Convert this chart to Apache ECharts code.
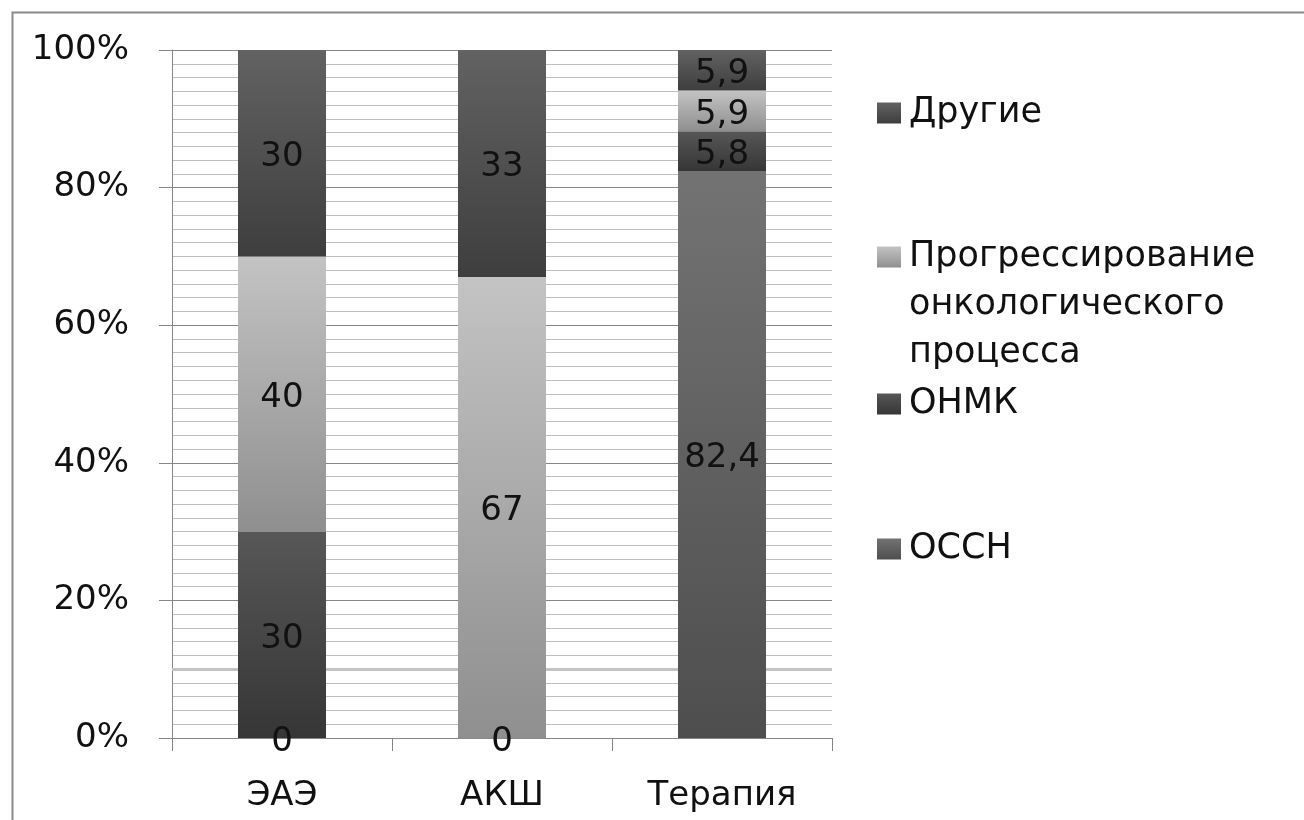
<!DOCTYPE html>
<html>
<head>
<meta charset="utf-8">
<script src="https://cdn.jsdelivr.net/npm/echarts@6/dist/echarts.min.js"></script>
<style>
  html, body { margin: 0; padding: 0; background: #ffffff; }
  #chart { width: 1304px; height: 820px; }
</style>
</head>
<body>
<div id="chart"></div>
<script>
// Causes of death by group, percent of each group (stacked to 100%)
const categories = ['ЭАЭ', 'АКШ', 'Терапия'];
const nameOSSN = 'ОССН';
const nameONMK = 'ОНМК';
const nameProgress = 'Прогрессирование онкологического процесса';
const nameOther = 'Другие';

const valuesOSSN = [0, 0, 82.4];
const valuesONMK = [30, null, 5.8];
const valuesProgress = [40, 67, 5.9];
const valuesOther = [30, 33, 5.9];

const yTickStep = 20;
const highlightedLevel = 10;

const FONT = 'DejaVu Sans';
const TEXT = '#111111';
const AXIS = '#868686';

function vGrad(top, bottom) {
  return new echarts.graphic.LinearGradient(0, 0, 0, 1, [
    { offset: 0, color: top },
    { offset: 1, color: bottom }
  ]);
}

const labelStyle = {
  show: true,
  position: 'inside',
  offset: [0, 4],
  fontFamily: FONT,
  fontSize: 34,
  color: TEXT,
  textBorderWidth: 0,
  formatter: p => (p.value == null ? '' : String(p.value).replace('.', ','))
};

function barSeries(name, data, fill, extra) {
  return Object.assign({
    name: name,
    type: 'bar',
    stack: 'total',
    barWidth: '40%',
    data: data,
    itemStyle: { color: fill },
    label: labelStyle,
    emphasis: { disabled: true }
  }, extra || {});
}

// one legend block per entry so each can sit at its own height
function legendItem(name, top, extraText, formatter) {
  return {
    data: [{ name: name, icon: 'rect' }],
    left: 872,
    top: top,
    itemWidth: 24,
    itemHeight: 21,
    selectedMode: false,
    formatter: formatter || (n => n),
    textStyle: Object.assign({
      fontFamily: FONT,
      fontSize: 35,
      color: TEXT,
      lineHeight: 40,
      padding: [0, 0, 0, 3]
    }, extraText || {})
  };
}

const chart = echarts.init(document.getElementById('chart'), null, { renderer: 'canvas' });

chart.setOption({
  animation: false,
  backgroundColor: '#ffffff',
  graphic: [{
    type: 'rect',
    left: 10,
    top: 10,
    shape: { width: 1400, height: 900 },
    style: { fill: 'none', stroke: '#8a8a8a', lineWidth: 2 },
    silent: true,
    z: 0
  }],
  grid: { left: 172, right: 472, top: 50, bottom: 82, containLabel: false },
  legend: [
    legendItem(nameOther, 88),
    // two empty lines on top keep the first text line level with the swatch
    legendItem(nameProgress, 132, { lineHeight: 48 },
      () => '\n\nПрогрессирование\nонкологического\nпроцесса'),
    legendItem(nameONMK, 379),
    legendItem(nameOSSN, 524)
  ],
  xAxis: {
    type: 'category',
    data: categories,
    boundaryGap: true,
    axisLine: { show: true, lineStyle: { color: AXIS, width: 1 } },
    axisTick: { show: true, length: 13, alignWithLabel: false, lineStyle: { color: AXIS } },
    axisLabel: { fontFamily: FONT, fontSize: 34, color: TEXT, margin: 41 },
    splitLine: { show: false }
  },
  yAxis: {
    type: 'value',
    min: 0,
    max: 100,
    interval: yTickStep,
    axisLine: { show: true, lineStyle: { color: AXIS, width: 1 } },
    axisTick: { show: true, length: 13, lineStyle: { color: AXIS } },
    axisLabel: { fontFamily: FONT, fontSize: 34, color: TEXT, margin: 43, formatter: v => v + '%' },
    splitLine: { show: true, lineStyle: { color: AXIS, width: 1 } },
    minorTick: { show: false, splitNumber: 10 },
    minorSplitLine: { show: true, lineStyle: { color: '#bfbfbf', width: 1 } }
  },
  series: [
    barSeries(nameOSSN, valuesOSSN, vGrad('#737373', '#4e4e4e'), {
      markLine: {
        silent: true,
        symbol: 'none',
        z: 1,
        label: { show: false },
        emphasis: { disabled: true },
        lineStyle: { color: '#c4c4c4', width: 3, type: 'solid' },
        data: [{ yAxis: highlightedLevel }]
      }
    }),
    barSeries(nameONMK, valuesONMK, vGrad('#575757', '#363636')),
    barSeries(nameProgress, valuesProgress, vGrad('#c3c3c3', '#8f8f8f')),
    barSeries(nameOther, valuesOther, vGrad('#626262', '#3e3e3e'))
  ]
});
</script>
</body>
</html>
